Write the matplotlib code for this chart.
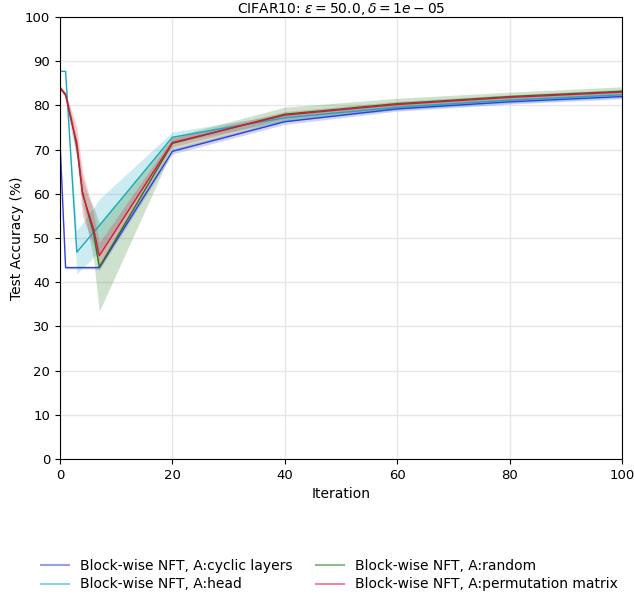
import numpy as np
import matplotlib
matplotlib.use("Agg")
from matplotlib import pyplot as plt
from matplotlib.lines import Line2D

# iterations at which test accuracy was measured
iters = [0, 1, 2, 3, 4, 5, 6, 7, 20, 40, 60, 80, 100]

# mean accuracy per strategy
cyclic = [72.0, 43.3, 43.3, 43.3, 43.3, 43.3, 43.3, 43.3, 69.6, 76.3, 79.2, 80.8, 82.0]
head = [87.7, 87.7, 67.0, 46.8, 48.3, 49.8, 51.3, 52.8, 72.8, 77.2, 79.6, 81.2, 82.4]
rand = [84.0, 82.5, 77.0, 70.5, 60.5, 55.5, 51.0, 43.4, 71.4, 78.0, 80.4, 82.0, 83.2]
perm = [84.0, 82.3, 76.5, 71.5, 60.0, 56.0, 52.0, 46.0, 71.6, 77.8, 80.2, 81.8, 83.0]

# spread (std) per strategy
cyclic_sd = [0.0, 0.3, 0.3, 0.3, 0.3, 0.3, 0.3, 0.5, 0.6, 0.6, 0.5, 0.5, 0.5]
head_sd = [0.0, 0.0, 2.0, 5.0, 5.0, 5.5, 5.5, 6.0, 1.2, 0.8, 0.7, 0.7, 0.7]
rand_sd = [0.5, 0.5, 1.0, 2.0, 3.0, 4.0, 6.0, 10.0, 1.5, 1.6, 1.2, 1.0, 1.0]
perm_sd = [0.5, 0.5, 2.5, 3.5, 5.0, 4.5, 3.5, 3.0, 1.0, 0.8, 0.7, 0.6, 0.6]

labels = ["Block-wise NFT, A:cyclic layers", "Block-wise NFT, A:head",
          "Block-wise NFT, A:random", "Block-wise NFT, A:permutation matrix"]
colors = ["#2f3fe0", "#17aac3", "#1f7a1f", "#dc143c"]

fig = plt.figure(figsize=(6.34, 5.98), dpi=100)
ax = fig.add_axes([0.0946, 0.2324, 0.8864, 0.7392])

series = [(cyclic, cyclic_sd), (head, head_sd), (rand, rand_sd), (perm, perm_sd)]
x = np.array(iters)
for (m, s), c in zip(series, colors):
    m = np.array(m)
    s = np.array(s)
    ax.fill_between(x, m - s, m + s, color=c, alpha=0.22, linewidth=0)
for (m, s), c in zip(series, colors):
    ax.plot(x, m, color=c, linewidth=1.0)

ax.set_xlim(0, 100)
ax.set_ylim(0, 100)
ax.set_xticks([0, 20, 40, 60, 80, 100])
ax.set_yticks(range(0, 101, 10))
ax.tick_params(labelsize=9.5)
ax.grid(True, color="#e6e6e6", linewidth=1.0)
ax.set_axisbelow(True)
ax.set_xlabel("Iteration")
ax.set_ylabel("Test Accuracy (%)", labelpad=1)
ax.set_title(r"CIFAR10: $\epsilon = 50.0, \delta = 1e-05$", fontsize=10, pad=3)

handles = [Line2D([], [], color=c, alpha=0.5, linewidth=1.5) for c in colors]
fig.legend(handles, labels, loc="lower center", bbox_to_anchor=(0.52, -0.01),
           ncol=2, frameon=False, fontsize=10, handlelength=2.0,
           columnspacing=1.7, labelspacing=0.3)

fig.savefig("out.png", dpi=100)
